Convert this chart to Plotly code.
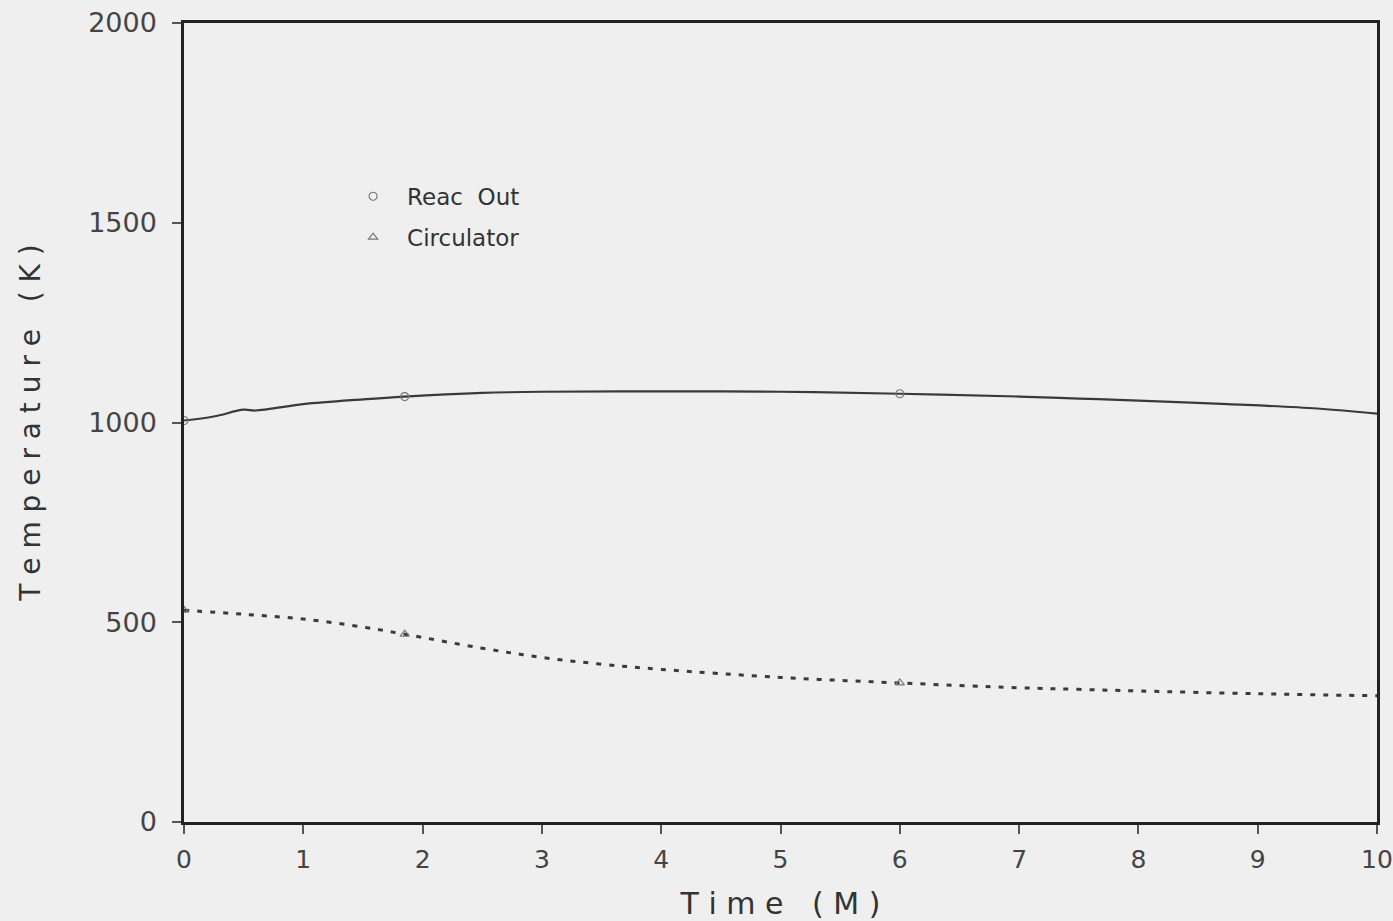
import plotly.graph_objects as go

# Data
reac_x = [0, 0.25, 0.5, 0.6, 1.0, 1.5, 1.85, 2.5, 3.0, 4.0, 5.0, 6.0, 7.0, 7.5, 8.0, 8.75, 9.5, 10]
reac_y = [1005, 1015, 1032, 1030, 1046, 1058, 1065, 1074, 1077, 1078, 1077, 1072, 1065, 1060, 1055, 1046, 1035, 1022]

circ_x = [0, 0.5, 1.0, 1.5, 1.85, 2.5, 3.0, 3.5, 4.0, 5.0, 6.0, 7.0, 7.5, 8.0, 9.0, 10]
circ_y = [530, 520, 508, 488, 470, 435, 412, 395, 382, 362, 348, 336, 332, 328, 321, 316]

marker_times = [0, 1.85, 6.0]

x_ticks = list(range(0, 11))
y_ticks = [0, 500, 1000, 1500, 2000]

def pick(xs, ys, targets):
    px, py = [], []
    for t in targets:
        i = xs.index(t)
        px.append(xs[i]); py.append(ys[i])
    return px, py

ink = "#3a3a3a"
font = "'DejaVu Sans', sans-serif"

fig = go.Figure()
fig.add_trace(go.Scatter(x=reac_x, y=reac_y, mode="lines", line=dict(color=ink, width=2.2),
                         line_shape="spline", showlegend=False))
fig.add_trace(go.Scatter(x=circ_x, y=circ_y, mode="lines", line=dict(color=ink, width=3, dash="5px,8px"),
                         line_shape="spline", showlegend=False))
mx, my = pick(reac_x, reac_y, marker_times)
fig.add_trace(go.Scatter(x=mx, y=my, mode="markers", name="Reac  Out", legendgroup="a",
                         marker=dict(symbol="circle-open", size=8, color="#777", line=dict(width=1.2))))
mx, my = pick(circ_x, circ_y, marker_times)
fig.add_trace(go.Scatter(x=mx, y=my, mode="markers", name="Circulator", legendgroup="b",
                         marker=dict(symbol="triangle-up-open", size=8, color="#777", line=dict(width=1.2))))

axis_common = dict(showline=True, linecolor="#222", linewidth=2.5, mirror=True, ticks="outside",
                   ticklen=9, tickwidth=1.5, tickcolor="#555", showgrid=False, zeroline=False,
                   ticklabeloverflow="allow", automargin=False)

fig.update_layout(
    width=1393, height=921,
    margin=dict(l=184, r=16, t=23, b=99),
    paper_bgcolor="#efefef", plot_bgcolor="#efefef",
    font=dict(family=font, color="#333"),
    legend=dict(x=0.13, y=0.81, xanchor="left", yanchor="top", bgcolor="rgba(0,0,0,0)",
                font=dict(family=font, size=23, color="#333"), itemwidth=58, tracegroupgap=8),
    xaxis=dict(range=[0, 10], tickvals=x_ticks, ticklabelstandoff=4,
               tickfont=dict(family=font, size=25, color="#444"),
               title=dict(text="T i m e   ( M )", font=dict(family=font, size=30, color="#333"), standoff=22),
               **axis_common),
    yaxis=dict(range=[0, 2000], tickvals=y_ticks, ticklabelstandoff=10,
               tickfont=dict(family=font, size=27, color="#444"),
               title=dict(text="T e m p e r a t u r e   ( K )", font=dict(family=font, size=28, color="#333"), standoff=40),
               **axis_common),
)

fig.write_html("out.html", config={"displayModeBar": False},
               post_script="document.body.style.margin='0';document.body.style.overflow='hidden';")
